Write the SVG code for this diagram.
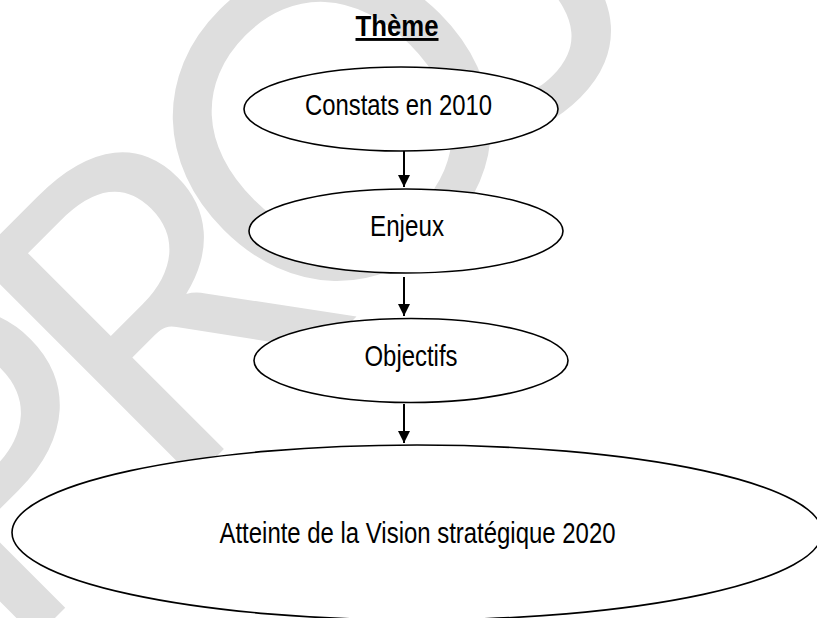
<svg xmlns="http://www.w3.org/2000/svg" width="817" height="618" viewBox="0 0 817 618">
<style>
.wm{font-family:Lato,"Open Sans","Liberation Sans",sans-serif;font-size:433px;fill:#dedede;text-anchor:middle}
.node ellipse{fill:#ffffff;stroke:#000;stroke-width:1.6}
.lbl{font-family:"Liberation Sans Narrow","Arial Narrow","Liberation Sans",sans-serif;font-size:29px;fill:#000;text-anchor:middle}
.title{font-family:"Liberation Sans Narrow","Arial Narrow","Liberation Sans",sans-serif;font-size:29px;font-weight:bold;text-anchor:middle;text-decoration:underline}
.conn line{stroke:#000;stroke-width:2}
</style>
<defs>
<marker id="ah" markerUnits="userSpaceOnUse" markerWidth="12" markerHeight="14" refX="12" refY="6" orient="auto">
<path d="M0,0 L12,6 L0,12 Z" fill="#000"/>
</marker>
</defs>
<rect width="817" height="618" fill="#fff"/>
<g id="watermark">
<text class="wm" transform="translate(336.5,336.5) rotate(-45)" x="-335 -105 148.5 384 578 813" y="0">PROJET</text>
</g>
<g id="title">
<text class="title" x="397" y="36" textLength="83" lengthAdjust="spacingAndGlyphs">Thème</text>
</g>
<g id="connectors" class="conn">
<line x1="404" y1="151" x2="404" y2="187" marker-end="url(#ah)"/>
<line x1="404" y1="277" x2="404" y2="316" marker-end="url(#ah)"/>
<line x1="404" y1="404" x2="404" y2="443" marker-end="url(#ah)"/>
</g>
<g id="n1" class="node">
<ellipse cx="401" cy="109" rx="157" ry="42"/>
<text class="lbl" x="398.5" y="115" textLength="187" lengthAdjust="spacingAndGlyphs">Constats en 2010</text>
</g>
<g id="n2" class="node">
<ellipse cx="406" cy="231" rx="157" ry="42"/>
<text class="lbl" x="407" y="235.5" textLength="74" lengthAdjust="spacingAndGlyphs">Enjeux</text>
</g>
<g id="n3" class="node">
<ellipse cx="411" cy="360.5" rx="157" ry="42"/>
<text class="lbl" x="411" y="366" textLength="93" lengthAdjust="spacingAndGlyphs">Objectifs</text>
</g>
<g id="n4" class="node">
<ellipse cx="417" cy="532.5" rx="405" ry="87.5"/>
<text class="lbl" x="417.5" y="542.5" textLength="396" lengthAdjust="spacingAndGlyphs">Atteinte de la Vision stratégique 2020</text>
</g>
</svg>
